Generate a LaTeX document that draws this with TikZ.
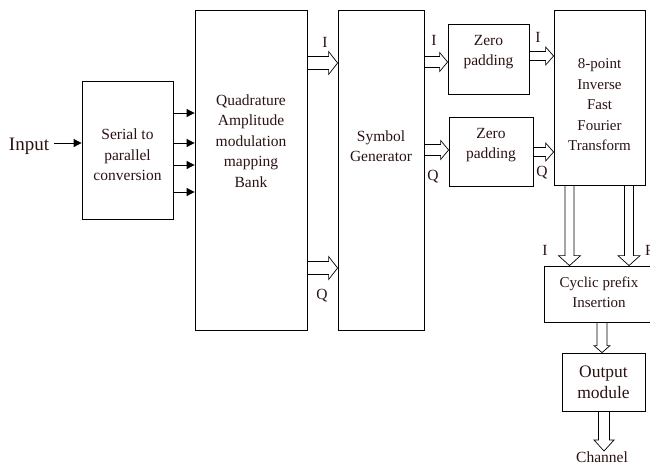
\documentclass[tikz,border=0pt]{standalone}
\usepackage{fontspec}
\setmainfont{Liberation Serif}
\usetikzlibrary{arrows.meta, calc}
\definecolor{encre}{HTML}{2A1212}

\tikzset{
  bloc/.style={draw, line width=0.8pt, inner sep=0pt},
  texte/.style={text=encre, align=center, inner sep=1pt, font=\fontsize{15.5}{20.5}\selectfont},
  lien/.style={line width=0.8pt, -{Triangle[length=8pt, width=8pt]}},
  % fleche creuse : demi-largeur du corps / demi-largeur de la tete / longueur de la tete
  creux/.style args={#1/#2/#3}{line width=0.7pt, to path={
    let \p1=(\tikztostart), \p2=(\tikztotarget), \n1={atan2(\y2-\y1,\x2-\x1)} in
    ($(\p1)+(\n1+90:#1)$) -- ($(\p2)+(\n1:-#3)+(\n1+90:#1)$)
    -- ($(\p2)+(\n1:-#3)+(\n1+90:#2)$) -- (\p2)
    -- ($(\p2)+(\n1:-#3)+(\n1-90:#2)$) -- ($(\p2)+(\n1:-#3)+(\n1-90:#1)$)
    -- ($(\p1)+(\n1-90:#1)$)}}
}

\begin{document}
\begin{tikzpicture}[x=1pt, y=-1pt]
  \useasboundingbox (0,0) rectangle (650,466);

  % blocs
  \node[bloc, minimum width=91pt, minimum height=138pt] (serie) at (127.5,150) {};
  \node[bloc, minimum width=112pt, minimum height=320pt] (qam) at (251,170) {};
  \node[bloc, minimum width=86pt, minimum height=320pt] (symb) at (381,170) {};
  \node[bloc, minimum width=81pt, minimum height=70pt] (zpa) at (488.5,59) {};
  \node[bloc, minimum width=84pt, minimum height=69pt] (zpb) at (491,151.5) {};
  \node[bloc, minimum width=91pt, minimum height=175pt] (ifft) at (599.5,97.5) {};
  \node[bloc, minimum width=110pt, minimum height=56pt] (cp) at (599,294) {};
  \node[bloc, minimum width=83pt, minimum height=58pt] (sortie) at (603.5,382) {};

  % textes
  \node[texte] (serietxt) at (127.5,155) {Serial to\\parallel\\conversion};
  \node[texte] (qamtxt) at (251,141) {Quadrature\\Amplitude\\modulation\\mapping\\Bank};
  \node[texte] (symbtxt) at (381,146) {Symbol\\Generator};
  \node[texte] (zpatxt) at (488.5,52) {Zero\\padding};
  \node[texte] (zpbtxt) at (491,145) {Zero\\padding};
  \node[texte, font=\fontsize{15}{20.5}\selectfont] (iffttxt) at (599.5,105) {8-point\\Inverse\\Fast\\Fourier\\Transform};
  \node[texte, font=\fontsize{15}{20}\selectfont] (cptxt) at (599,292) {Cyclic prefix\\Insertion};
  \node[texte, font=\fontsize{17.5}{21.5}\selectfont] (sortietxt) at (603.5,382.5) {Output\\module};
  \node[texte, font=\fontsize{19}{22}\selectfont, inner sep=4pt] (entree) at (29,146) {Input};
  \node[texte, font=\fontsize{15.5}{18}\selectfont, anchor=north] (canal) at (602,451) {Channel};

  % entree et sorties paralleles
  \draw[lien] (entree.east) ++(1,-3) -- (serie.west |- 0,143);
  \foreach \y in {113,143,165,192}
    \draw[lien] (serie.east |- 0,\y) -- (qam.west |- 0,\y);

  % fleches creuses
  \draw[creux=6.5pt/11.5pt/9pt] (qam.east |- 0,63) to (symb.west |- 0,63);
  \draw[creux=6.5pt/11.5pt/9pt] (qam.east |- 0,268) to (symb.west |- 0,268);
  \draw[creux=5.5pt/9.5pt/8pt] (symb.east |- 0,62) to (zpa.west |- 0,62);
  \draw[creux=5.5pt/9.5pt/8pt] (symb.east |- 0,150) to (zpb.west |- 0,150);
  \draw[creux=4.5pt/9pt/8pt] (zpa.east |- 0,56) to (ifft.west |- 0,56);
  \draw[creux=4.5pt/9pt/8pt] (zpb.east |- 0,152) to (ifft.west |- 0,152);
  \draw[creux=4.5pt/11pt/10pt] (ifft.south -| 569.5,0) to (cp.north -| 569.5,0);
  \draw[creux=4.5pt/11pt/10pt] (ifft.south -| 629,0) to (cp.north -| 629,0);
  \draw[creux=5pt/8pt/7pt] (cp.south -| 602,0) to (sortie.north -| 602,0);
  \draw[creux=5.5pt/10pt/11pt] (sortie.south -| 604,0) to (canal.north -| 604,0);

  % etiquettes I / Q
  \node[texte] (ia) at (325,42) {I};
  \node[texte] (qa) at (322,296) {Q};
  \node[texte] (ib) at (434,40) {I};
  \node[texte] (qb) at (433,177) {Q};
  \node[texte] (ic) at (538,37) {I};
  \node[texte] (qc) at (542,173) {Q};
  \node[texte] (id) at (545,250) {I};
  \node[texte, anchor=west] (rd) at (644,250) {R};
\end{tikzpicture}
\end{document}
